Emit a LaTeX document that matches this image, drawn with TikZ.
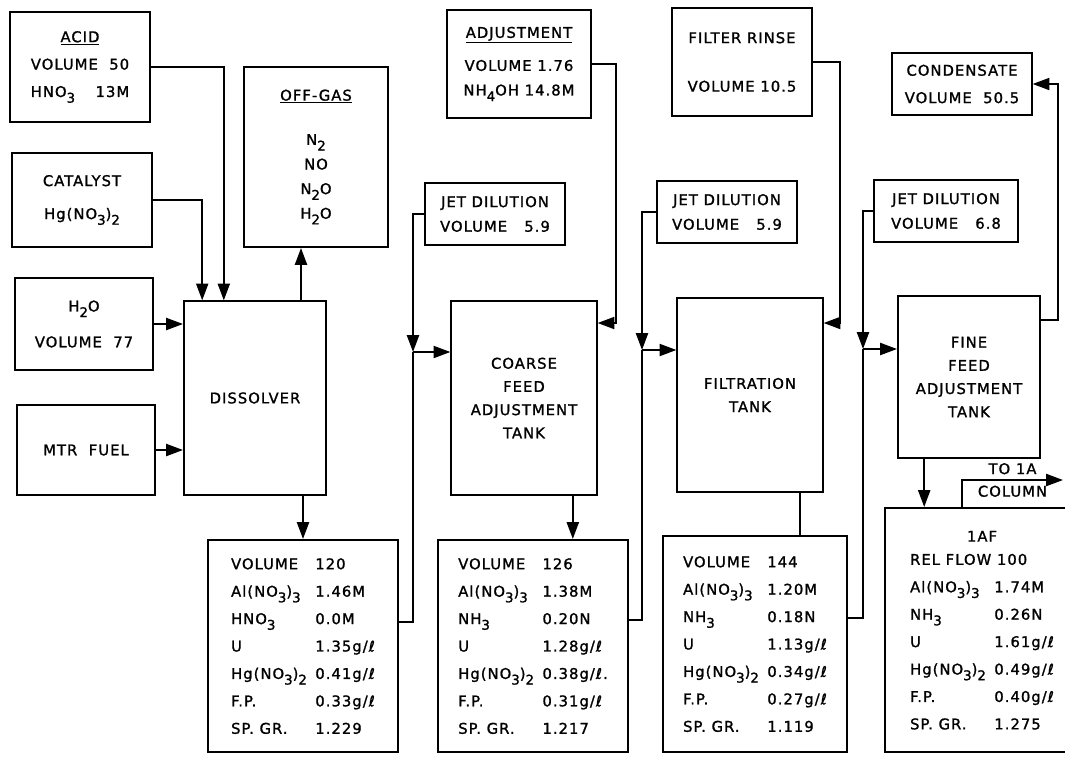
\documentclass[tikz,border=0pt]{standalone}
\usepackage{fontspec}
\setmainfont{DejaVu Sans}[LetterSpace=7, FakeBold=1.3]
\usetikzlibrary{arrows.meta,positioning,calc}
\newcommand{\chemsub}[1]{\raisebox{-0.7ex}{\fontsize{9.5}{9.5}\selectfont #1}}

\begin{document}
\begin{tikzpicture}[x=0.025cm, y=-0.025cm, >={Triangle[length=4.2mm, width=3mm]}, line width=1.4pt,
  font=\fontsize{10.5}{19.5}\selectfont,
  box/.style={draw, align=center, inner sep=2pt},
  tight/.style={box, font=\fontsize{10.5}{17.5}\selectfont},
  tank/.style={box, font=\fontsize{10.5}{16.5}\selectfont},
  data/.style={draw, inner sep=0pt}]
\useasboundingbox (0,0) rectangle (1065,758);
\clip (0,0) rectangle (1065,758);
% feeds to the dissolver
\node[box, minimum width=3.5cm, minimum height=2.75cm] (acid) at (80,67) {\underline{ACID}\\ VOLUME\ \ 50\\ HNO\chemsub{3}\quad\ 13M};
\node[box, minimum width=3.5cm, minimum height=2.33cm] (cat) at (82,200) {CATALYST\\[4pt] Hg(NO\chemsub{3})\chemsub{2}};
\node[box, minimum width=3.45cm, minimum height=2.3cm] (water) at (84,324) {H\chemsub{2}O\\[6pt] VOLUME\ \ 77};
\node[box, minimum width=3.45cm, minimum height=2.25cm] (fuel) at (86,450) {MTR\ \ FUEL};
\node[tank, minimum width=3.55cm, minimum height=4.83cm] (diss) at (255,398) {DISSOLVER};
\node[tight, minimum width=3.58cm, minimum height=4.5cm] (offgas) at (316,157) {\underline{OFF-GAS}\\[14pt] N\chemsub{2}\\ NO\\ N\chemsub{2}O\\ H\chemsub{2}O};
% additions
\node[tight, minimum width=3.58cm, minimum height=2.7cm] (adj) at (519,64) {\underline{ADJUSTMENT}\\[6pt] VOLUME 1.76\\ NH\chemsub{4}OH 14.8M};
\node[box, minimum width=3.5cm, minimum height=2.7cm] (rinse) at (742,62) {FILTER RINSE\\[15pt] VOLUME 10.5};
\node[box, minimum width=3.48cm, minimum height=1.55cm] (cond) at (962,84) {CONDENSATE\\ VOLUME\ \ 50.5};
\node[tight, minimum width=3.48cm, minimum height=1.55cm] (jd1) at (495,214) {JET DILUTION\\ VOLUME\ \ \ 5.9};
\node[tight, minimum width=3.5cm, minimum height=1.55cm] (jd2) at (727,212) {JET DILUTION\\ VOLUME\ \ \ 5.9};
\node[tight, minimum width=3.58cm, minimum height=1.55cm] (jd3) at (946,211) {JET DILUTION\\ VOLUME\ \ \ 6.8};
% tanks
\node[tank, minimum width=3.63cm, minimum height=4.85cm] (coarse) at (524,398) {COARSE\\ FEED\\ ADJUSTMENT\\ TANK};
\node[tank, minimum width=3.63cm, minimum height=4.85cm] (filt) at (750,395) {FILTRATION\\ TANK};
\node[tank, minimum width=3.55cm, minimum height=4.03cm] (fine) at (969,377) {FINE\\ FEED\\ ADJUSTMENT\\ TANK};
% stream compositions
\node[data, minimum width=4.75cm, minimum height=5.3cm] (s1) at (303,646) {\begin{tabular}{@{}l@{\hspace{6pt}}l@{}}
VOLUME & 120\\
Al(NO\chemsub{3})\chemsub{3} & 1.46M\\
HNO\chemsub{3} & 0.0M\\
U & 1.35g/ℓ\\
Hg(NO\chemsub{3})\chemsub{2} & 0.41g/ℓ\\
F.P. & 0.33g/ℓ\\
SP. GR. & 1.229
\end{tabular}};
\node[data, minimum width=4.75cm, minimum height=5.3cm] (s2) at (533,646) {\begin{tabular}{@{}l@{\hspace{6pt}}l@{}}
VOLUME & 126\\
Al(NO\chemsub{3})\chemsub{3} & 1.38M\\
NH\chemsub{3} & 0.20N\\
U & 1.28g/ℓ\\
Hg(NO\chemsub{3})\chemsub{2} & 0.38g/ℓ.\\
F.P. & 0.31g/ℓ\\
SP. GR. & 1.217
\end{tabular}};
\node[data, minimum width=4.6cm, minimum height=5.4cm] (s3) at (755,644) {\begin{tabular}{@{}l@{\hspace{6pt}}l@{}}
VOLUME & 144\\
Al(NO\chemsub{3})\chemsub{3} & 1.20M\\
NH\chemsub{3} & 0.18N\\
U & 1.13g/ℓ\\
Hg(NO\chemsub{3})\chemsub{2} & 0.34g/ℓ\\
F.P. & 0.27g/ℓ\\
SP. GR. & 1.119
\end{tabular}};
\node[data, minimum width=4.85cm, minimum height=6.1cm] (s4) at (982,630) {\begin{tabular}{@{}l@{\hspace{6pt}}l@{}}
\multicolumn{2}{c}{1AF}\\[-3pt]
\multicolumn{2}{@{}l}{REL FLOW 100}\\
Al(NO\chemsub{3})\chemsub{3} & 1.74M\\
NH\chemsub{3} & 0.26N\\
U & 1.61g/ℓ\\
Hg(NO\chemsub{3})\chemsub{2} & 0.49g/ℓ\\
F.P. & 0.40g/ℓ\\
SP. GR. & 1.275
\end{tabular}};
% junctions
\coordinate (j1) at (413,352);
\coordinate (j2) at (642,350);
\coordinate (j3) at (863,349);
\coordinate (k1) at (616,323);
\coordinate (k2) at (840,323);
\coordinate (k3) at (1058,84);
\coordinate (col) at (1063,480);
% flows
\draw[->] (acid.east) -| ([xshift=1.02cm]diss.north west);
\draw[->] (cat.east) -| ([xshift=0.48cm]diss.north west);
\draw[->] (water.east) -- (water.east -| diss.west);
\draw[->] (fuel.east) -- (fuel.east -| diss.west);
\draw[->] ([xshift=-0.65cm]diss.north east) -- ([xshift=-0.65cm]diss.north east |- offgas.south);
\draw[->] (s1.north |- diss.south) -- (s1.north);
\draw ([yshift=0.6cm]s1.east) -| (j1);
\draw[->] (jd1.west) -| (j1);
\draw[->] (j1) -- (j1 -| coarse.west);
\draw[->] (adj.east) -| (k1) -- (k1 -| coarse.east);
\draw[->] ([xshift=-0.62cm]coarse.south east) -- ([xshift=-0.62cm]coarse.south east |- s2.north);
\draw ([yshift=0.65cm]s2.east) -| (j2);
\draw[->] (jd2.west) -| (j2);
\draw[->] (j2) -- (j2 -| filt.west);
\draw[->] (rinse.east) -| (k2) -- (k2 -| filt.east);
\draw ([xshift=-0.58cm]filt.south east) -- ([xshift=-0.58cm]filt.south east |- s3.north);
\draw ([yshift=0.65cm]s3.east) -| (j3);
\draw[->] (jd3.west) -| (j3);
\draw[->] (j3) -- (j3 -| fine.west);
\draw[->] ([yshift=-0.62cm]fine.north east) -| (k3) -- (cond.east);
\draw[->] ([xshift=0.68cm]fine.south west) -- ([xshift=0.68cm]fine.south west |- s4.north);
\draw[->] ([xshift=1.95cm]s4.north west) |- (col) node[pos=0.75, above=0pt] {TO 1A} node[pos=0.75, below=0pt] {COLUMN};
\end{tikzpicture}
\end{document}
